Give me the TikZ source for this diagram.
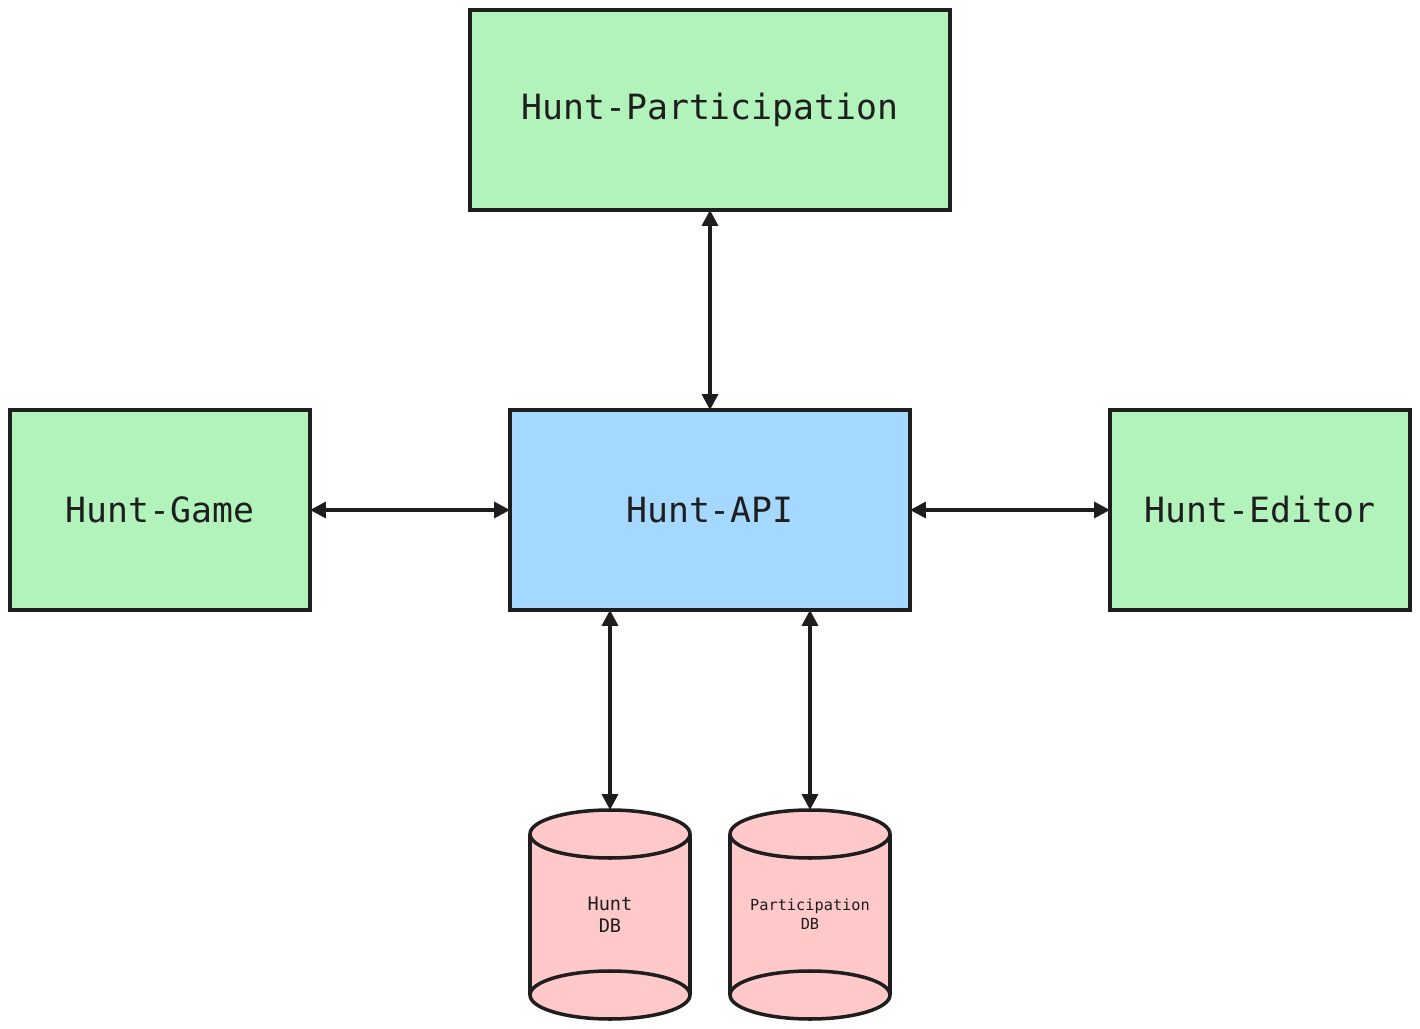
\documentclass[tikz,border=0pt]{standalone}
\usepackage{fontspec}
\setmonofont{DejaVu Sans Mono}
\usepackage{tikz}
\usetikzlibrary{arrows.meta, positioning}
\definecolor{svcgreen}{HTML}{B2F2BB}
\definecolor{apiblue}{HTML}{A5D8FF}
\definecolor{dbpink}{HTML}{FFC9C9}
\definecolor{inkline}{HTML}{1E1E1E}
\pgfdeclarelayer{background}
\pgfsetlayers{background,main}

\begin{document}
\begin{tikzpicture}[
    node distance=4cm,
    >={Triangle[length=9pt, width=9pt]},
    box/.style={draw=inkline, line width=2pt, rectangle, minimum height=4cm, outer sep=0pt,
      font=\ttfamily\fontsize{19.8}{22}\selectfont, text=inkline},
    db/.style={minimum width=3.2cm, minimum height=4.18cm, inner sep=0pt, outer sep=0pt,
      align=center, text=inkline},
    drum/.style={fill=dbpink, draw=inkline, line width=2pt},
    link/.style={<->, line width=2pt, draw=inkline},
  ]

  % Frame of the picture
  \useasboundingbox (-14.2,10.2) rectangle (14.2,-10.38);

  % Central service
  \node[box, fill=apiblue, minimum width=8cm] (api) at (0,0) {Hunt-API};

  % Client services
  \node[box, fill=svcgreen, minimum width=9.6cm] (part) [above=of api] {Hunt-Participation};
  \node[box, fill=svcgreen, minimum width=6cm] (game) [left=of api] {Hunt-Game};
  \node[box, fill=svcgreen, minimum width=6cm] (editor) [right=of api] {Hunt-Editor};

  % Databases
  \node[db, font=\ttfamily\fontsize{10.6}{12.5}\selectfont] (huntdb)
    [below=of api.south, xshift=-2cm] {Hunt\\DB};
  \node[db, font=\ttfamily\fontsize{8.7}{11}\selectfont] (partdb)
    [below=of api.south, xshift=2cm] {Participation\\DB};

  % Drum outlines behind the database labels
  \begin{pgfonlayer}{background}
  \foreach \d in {huntdb, partdb} {
    \fill[dbpink] ([yshift=-0.48cm]\d.north west) rectangle ([yshift=0.48cm]\d.south east);
    \filldraw[drum] ([yshift=0.48cm]\d.south) ellipse[x radius=1.6cm, y radius=0.48cm];
    \filldraw[drum] ([yshift=-0.48cm]\d.north) ellipse[x radius=1.6cm, y radius=0.48cm];
    \draw[drum] ([yshift=-0.48cm]\d.north west) -- ([yshift=0.48cm]\d.south west);
    \draw[drum] ([yshift=-0.48cm]\d.north east) -- ([yshift=0.48cm]\d.south east);
  }
  \end{pgfonlayer}

  % Connections
  \draw[link] (part) -- (api);
  \draw[link] (game) -- (api);
  \draw[link] (api) -- (editor);
  \draw[link] (api.south -| huntdb.north) -- (huntdb.north);
  \draw[link] (api.south -| partdb.north) -- (partdb.north);
\end{tikzpicture}
\end{document}
